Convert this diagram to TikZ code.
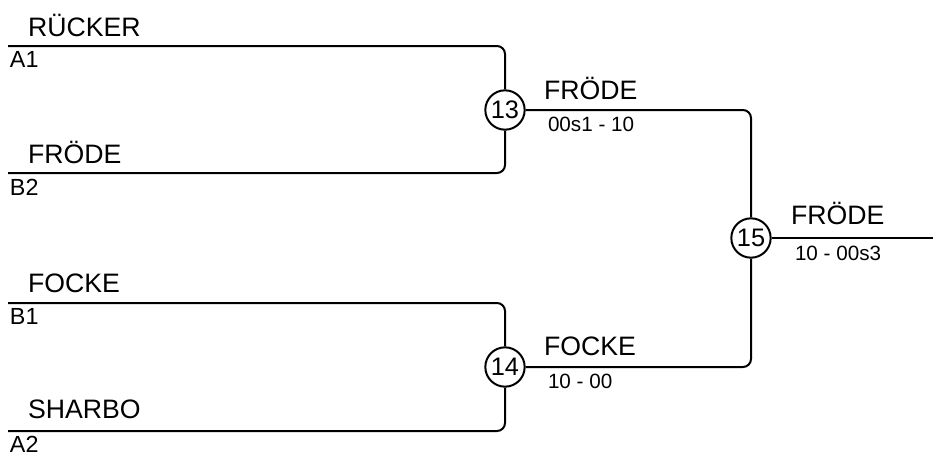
\documentclass[tikz,border=0pt]{standalone}
\usepackage{fontspec}
\setmainfont{Liberation Sans}
\tikzset{every picture/.style={line width=1.5pt}}
\tikzset{
  player/.style={anchor=base west,inner sep=0pt,font=\fontsize{20}{22}\selectfont},
  seed/.style={anchor=base west,inner sep=0pt,font=\fontsize{17.5}{19}\selectfont},
  score/.style={anchor=base west,inner sep=0pt,font=\fontsize{15.5}{17}\selectfont},
  match/.style={circle,draw,fill=white,minimum size=29.5pt,inner sep=0pt,font=\fontsize{19}{20}\selectfont},
  bracket/.style={rounded corners=6pt}
}

\begin{document}
\begin{tikzpicture}[x=0.75pt,y=0.75pt,yscale=-1,xscale=1]
\useasboundingbox (0,0) rectangle (933,455);

%Entry points
\coordinate (a1) at (8,46);
\coordinate (b2) at (8,173);
\coordinate (b1) at (8,303);
\coordinate (a2) at (8,431);
\coordinate (winner) at (933,238);

%Shape: Circle [match 13]
\node [match] (m13) at (505,110) {13};
%Shape: Circle [match 14]
\node [match] (m14) at (505,367) {14};
%Shape: Circle [match 15]
\node [match] (m15) at (751,238) {15};

%Straight Lines
\draw [bracket] (a1) -| (m13.north) ;
\draw [bracket] (b2) -| (m13.south) ;
\draw [bracket] (b1) -| (m14.north) ;
\draw [bracket] (a2) -| (m14.south) ;
\draw [bracket] (m13.east) -| (m15.north) ;
\draw [bracket] (m14.east) -| (m15.south) ;
\draw (m15.east) -- (winner) ;

% Text Node
\node [player] (pa1) at (27,36) {RÜCKER};
% Text Node
\node [seed] (sa1) at (9,67) {A1};
% Text Node
\node [player] (pb2) at (27,163) {FRÖDE};
% Text Node
\node [seed] (sb2) at (9,195) {B2};
% Text Node
\node [player] (pb1) at (27,292) {FOCKE};
% Text Node
\node [seed] (sb1) at (9,324) {B1};
% Text Node
\node [player] (pa2) at (27,418) {SHARBO};
% Text Node
\node [seed] (sa2) at (9,452) {A2};
% Text Node
\node [player] (w13) at (543,99) {FRÖDE};
% Text Node
\node [score] (r13) at (547,131) {00s1 - 10};
% Text Node
\node [player] (w14) at (543,355) {FOCKE};
% Text Node
\node [score] (r14) at (547,388) {10 - 00};
% Text Node
\node [player] (w15) at (790,224) {FRÖDE};
% Text Node
\node [score] (r15) at (794,260) {10 - 00s3};

\end{tikzpicture}
\end{document}
